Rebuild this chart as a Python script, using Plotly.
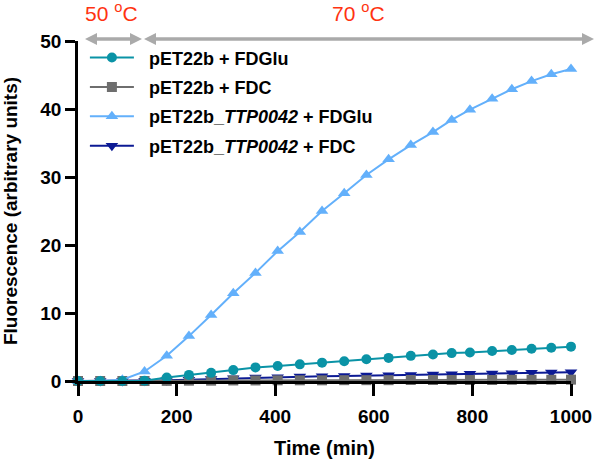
import plotly.graph_objects as go

time_min = [0, 45, 90, 135, 180, 225, 270, 315, 360, 405, 450, 495, 540, 585, 630,
            675, 720, 758, 795, 840, 880, 920, 960, 1000]

pet_fdglu = [0, 0, 0, 0.05, 0.5, 0.9, 1.2, 1.6, 2.0, 2.2, 2.45, 2.7, 2.9, 3.2, 3.4,
             3.7, 3.9, 4.1, 4.2, 4.4, 4.55, 4.75, 4.9, 5.05]
pet_fdc = [0, 0, 0, 0, 0.02, 0.05, 0.05, 0.08, 0.08, 0.1, 0.1, 0.1, 0.12, 0.12, 0.12,
           0.15, 0.15, 0.15, 0.15, 0.15, 0.18, 0.18, 0.18, 0.2]
ttp_fdglu = [0, 0, 0.2, 1.4, 3.7, 6.6, 9.7, 12.9, 15.9, 19.1, 21.9, 25.0, 27.6, 30.3, 32.6,
             34.7, 36.6, 38.4, 39.9, 41.5, 42.9, 44.1, 45.1, 45.9]
ttp_fdc = [0, 0, 0, 0.05, 0.1, 0.2, 0.3, 0.4, 0.5, 0.55, 0.65, 0.7, 0.75, 0.8, 0.85,
           0.9, 0.95, 1.0, 1.05, 1.1, 1.15, 1.2, 1.25, 1.3]

series_names = ["pET22b + FDGlu", "pET22b + FDC",
                "pET22b_<i>TTP0042</i> + FDGlu", "pET22b_<i>TTP0042</i> + FDC"]
series_values = [pet_fdglu, pet_fdc, ttp_fdglu, ttp_fdc]
colors = ["#0a93a6", "#6e6e6e", "#63b0fb", "#0c1a94"]
symbols = ["circle", "square", "triangle-up", "triangle-down"]
sizes = [10, 10, 11, 11]

x_ticks = [0, 200, 400, 600, 800, 1000]
y_ticks = [0, 10, 20, 30, 40, 50]
temp_labels = ["50 <sup>o</sup>C", "70 <sup>o</sup>C"]

FONT = "Liberation Sans, Arial, sans-serif"

W, H = 595, 464
ML, MR, MT, MB = 78, 24, 41, 83
PW, PH = W - ML - MR, H - MT - MB


def px(xp):
    return (xp - ML) / PW


def py(yp):
    return (H - MB - yp) / PH


fig = go.Figure()
# drawing order: grey and navy below, light blue and teal on top
for i in [3, 1, 2, 0]:
    fig.add_trace(go.Scatter(
        x=time_min, y=series_values[i], mode="lines+markers",
        name="<b>&nbsp;&nbsp;" + series_names[i] + "</b>",
        line=dict(color=colors[i], width=2),
        marker=dict(symbol=symbols[i], size=sizes[i], color=colors[i]),
        cliponaxis=False, legendgroup="g" + str(i), legendrank=i + 1,
    ))

axis_common = dict(showline=True, linecolor="black", linewidth=2.5,
                   ticks="outside", tickwidth=2.5, tickcolor="black",
                   showgrid=False, zeroline=False, automargin=False,
                   tickfont=dict(family=FONT, size=19, color="black", weight="bold"))

fig.update_xaxes(range=[0, 1000], tickvals=x_ticks, ticklen=12, ticklabelstandoff=4,
                 title=dict(text="<b>Time (min)</b>", font=dict(family=FONT, size=20, color="black"),
                            standoff=16),
                 **axis_common)
fig.update_yaxes(range=[0, 50], tickvals=y_ticks, ticklen=10,
                 title=dict(text="<b>Fluorescence (arbitrary units)</b>",
                            font=dict(family=FONT, size=19, color="black"), standoff=20),
                 **axis_common)

# temperature arrows drawn as shapes (pixel positions converted to paper coords)
shapes = []
arrow_y = 39
head_len, head_half = 12, 6
for left, right in [(85, 142), (144, 594)]:
    shapes.append(dict(type="line", xref="paper", yref="paper",
                       x0=px(left + head_len - 1), x1=px(right - head_len + 1),
                       y0=py(arrow_y), y1=py(arrow_y),
                       line=dict(color="#aaaaaa", width=3.5)))
    for tip, base in [(left, left + head_len), (right, right - head_len)]:
        path = "M {} {} L {} {} L {} {} Z".format(
            px(tip), py(arrow_y), px(base), py(arrow_y - head_half),
            px(base), py(arrow_y + head_half))
        shapes.append(dict(type="path", xref="paper", yref="paper", path=path,
                           fillcolor="#aaaaaa", line=dict(width=0)))

ann = []
for xc, lab in [(111, temp_labels[0]), (358, temp_labels[1])]:
    ann.append(dict(xref="paper", yref="paper", x=px(xc), y=py(12), text=lab,
                    showarrow=False, font=dict(family=FONT, size=21, color="#ff3311"),
                    xanchor="center", yanchor="middle"))

fig.update_layout(
    width=W, height=H,
    margin=dict(l=ML, r=MR, t=MT, b=MB),
    plot_bgcolor="white", paper_bgcolor="white",
    annotations=ann, shapes=shapes,
    legend=dict(x=0.014, y=1.005, xanchor="left", yanchor="top",
                font=dict(family=FONT, size=18, color="black"),
                bgcolor="rgba(0,0,0,0)", tracegroupgap=3, itemwidth=44,
                traceorder="grouped"),
)

fig.write_html("out.html", config={"displayModeBar": False},
               post_script="document.body.style.margin='0px';")
